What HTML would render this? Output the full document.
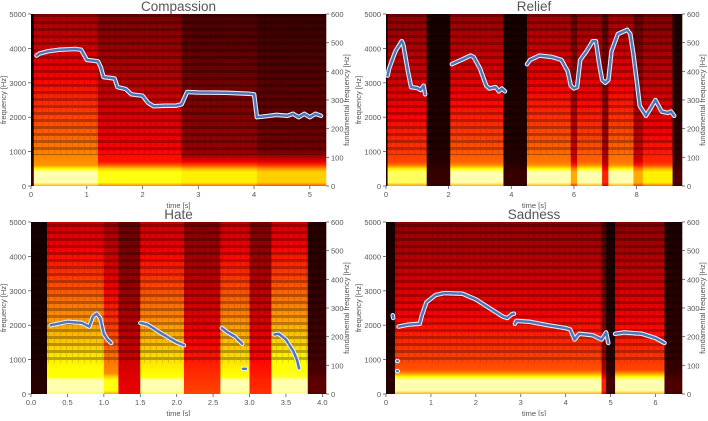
<!DOCTYPE html>
<html><head><meta charset="utf-8"><style>
body{margin:0;background:#fff;width:708px;height:416px;overflow:hidden;font-family:"Liberation Sans",sans-serif}
svg text{font-family:"Liberation Sans",sans-serif;fill:#555}
</style></head><body>
<svg id="fig" width="708" height="416" xmlns="http://www.w3.org/2000/svg"><defs id="defs">
<pattern id="harm" width="6" height="7" patternUnits="userSpaceOnUse"><rect x="0" y="0" width="6" height="3" fill="#000" opacity="0.28"/><rect x="0" y="3" width="1" height="4" fill="#000" opacity="0.12"/></pattern>
</defs></svg>
<script>
// ---- data ----
const compSegs=[[0,0.05,0.05,0.1],[0.05,1.2,0.72,0.95],[1.2,2.7,0.52,0.85],[2.7,4.05,0.3,0.8],[4.05,5.29,0.22,0.75]];
const compPitch=[[[0.1,455],[0.15,462],[0.3,470],[0.5,475],[0.8,478],[0.9,475],[1.0,440],[1.2,435],[1.25,415],[1.3,380],[1.5,375],[1.55,345],[1.7,338],[1.8,320],[2.0,315],[2.1,290],[2.2,278],[2.4,280],[2.6,280],[2.7,285],[2.8,328],[3.0,326],[3.5,325],[3.9,322],[4.0,320],[4.05,240],[4.2,243],[4.4,248],[4.6,245],[4.7,252],[4.8,240],[4.9,252],[5.0,240],[5.1,252],[5.2,245]]];
const reliefSegs=[[0,0.05,.05,.05],[0.05,1.3,0.6,0.9],[1.3,2.05,0.05,0.08],[2.05,3.75,0.65,0.95],[3.75,4.5,0.05,0.08],[4.5,5.9,0.68,0.95],[5.9,6.1,0.4,0.7],[6.1,6.9,0.65,0.95],[6.9,7.1,0.34,0.5],[7.1,7.9,0.68,0.95],[7.9,8.2,0.4,0.7],[8.2,9.15,0.55,0.8],[9.15,9.45,0.08,0.12]];
const reliefPitch=[[[0.05,385],[0.1,410],[0.3,470],[0.5,505],[0.55,495],[0.7,400],[0.8,345],[1.0,342],[1.1,335],[1.2,350],[1.25,320]],
[[2.1,425],[2.4,440],[2.7,455],[2.8,450],[3.0,410],[3.2,350],[3.3,340],[3.5,345],[3.6,330],[3.7,340],[3.8,330]],
[[4.5,425],[4.6,440],[4.9,455],[5.3,450],[5.6,440],[5.8,400],[5.9,350],[6.0,340],[6.1,345],[6.2,440],[6.4,470],[6.6,505],[6.7,505],[6.8,430],[6.9,370],[7.0,360],[7.1,370],[7.2,470],[7.4,530],[7.7,545],[7.8,530],[7.9,460],[8.0,370],[8.1,280],[8.3,245],[8.5,280],[8.6,300],[8.7,280],[8.8,260],[9.0,255],[9.1,260],[9.2,245]]];
const hateSegs=[[0,0.22,0.04,0.05],[0.22,1.0,0.9,0.95],[1.0,1.2,0.7,0.85],[1.2,1.5,0.42,0.35],[1.5,2.1,0.88,0.95],[2.1,2.6,0.55,0.5],[2.6,3.0,0.88,0.95],[3.0,3.3,0.52,0.5],[3.3,3.8,0.92,0.95],[3.8,4.05,0.12,0.15]];
const hatePitch=[[[0.27,240],[0.5,252],[0.7,248],[0.8,235],[0.85,270],[0.9,280],[0.95,265],[1.0,210],[1.05,190],[1.1,178]],
[[1.5,248],[1.6,242],[1.8,210],[2.0,180],[2.1,170]],[[2.62,230],[2.7,215],[2.8,200],[2.9,175]],[[2.91,88],[2.95,88]],
[[3.34,208],[3.4,210],[3.5,190],[3.6,150],[3.65,120],[3.68,90]]];
const sadSegs=[[0,0.2,0.05,0.05],[0.2,4.8,0.62,0.95],[4.8,4.9,0.3,0.5],[4.9,5.1,0.06,0.1],[5.1,6.2,0.6,0.95],[6.2,6.59,0.08,0.12]];
const sadPitch=[[[0.15,275],[0.16,265]],[[0.25,115],[0.26,115]],[[0.25,80],[0.26,80]],
[[0.28,235],[0.5,242],[0.75,245],[0.8,275],[0.9,320],[1.1,345],[1.3,352],[1.7,350],[2.0,330],[2.3,300],[2.6,270],[2.7,265],[2.8,278],[2.85,280]],
[[2.87,245],[2.9,255],[3.2,252],[3.6,240],[4.0,230],[4.1,225],[4.2,190],[4.3,210],[4.6,205],[4.8,190],[4.9,215],[4.95,178]],
[[5.1,210],[5.3,215],[5.7,210],[6.0,195],[6.2,178]]];
const freqTicks=[0,1000,2000,3000,4000,5000];
const f0Ticks=[0,100,200,300,400,500,600];
const compTicks=[0,1,2,3,4,5];
const reliefTicks=[0,2,4,6,8];
const hateTicks=[0,0.5,1,1.5,2,2.5,3,3.5,4];
const sadTicks=[0,1,2,3,4,5,6];
const titles=["Compassion","Relief","Hate","Sadness"];

const NS="http://www.w3.org/2000/svg";
const svg=document.getElementById('fig'),defs=document.getElementById('defs');
function mk(t,a,p){const e=document.createElementNS(NS,t);for(const k in a)e.setAttribute(k,a[k]);(p||svg).appendChild(e);return e;}
function hot(v){v=Math.max(0,Math.min(1,v));const r=Math.min(1,0.05+v/0.48),g=Math.max(0,Math.min(1,(v-0.45)/0.37)),b=Math.max(0,Math.min(1,(v-0.84)/0.16));return `rgb(${Math.round(r*255)},${Math.round(g*255)},${Math.round(b*255)})`;}
function lowBand(f,B){if(f<80)return B*0.75;if(f<=450)return B;return B*Math.exp(-(f-450)/420);}
let gid=0;
function panel(name,x0,x1,y0,y1,tmax,segs,pitch,ticks,fmt,title){
  const g=mk('g',{});
  
  
  const X=t=>x0+(x1-x0)*t/tmax, Yf=f=>y1-(y1-y0)*f/5000, Yp=p=>y1-(y1-y0)*p/600;
  mk('rect',{x:x0,y:y0,width:x1-x0,height:y1-y0,fill:'#100000'},g);
  segs.forEach(s=>{
    const id='gr'+(gid++);const lg=mk('linearGradient',{id:id,x1:0,y1:1,x2:0,y2:0},defs);
    for(let f=0;f<=5000;f+=100){const v=Math.max(lowBand(f,s[3]),s[2]*(1-0.6*f/5000));mk('stop',{offset:f/5000,'stop-color':hot(v)},lg);}
    const r=mk('rect',{x:X(s[0]),y:y0,width:Math.max(0.5,X(s[1])-X(s[0])+0.3),height:y1-y0,fill:`url(#${id})`},g);
    
    
  });
  mk('rect',{x:x0,y:y0,width:x1-x0,height:Yf(900)-y0,fill:'url(#harm)'},g);
  pitch.forEach(seg=>{
    const d=seg.map((p,i)=>(i?'L':'M')+X(p[0]).toFixed(1)+','+Yp(p[1]).toFixed(1)).join('');
    mk('path',{d:d,fill:'none',stroke:'#e8eef8','stroke-width':4.5,'stroke-linecap':'round','stroke-linejoin':'round'},g);
    const l=mk('path',{d:d,fill:'none',stroke:'#4f74b8','stroke-width':2.4,'stroke-linecap':'round','stroke-linejoin':'round'},g);
    
    
  });
  freqTicks.forEach(f=>{mk('line',{x1:x0-3,x2:x0,y1:Yf(f),y2:Yf(f),stroke:'#555','stroke-width':0.8},g);const t=mk('text',{x:x0-5,y:Yf(f)+3,'font-size':7.5,'text-anchor':'end'},g);t.textContent=f;});
  f0Ticks.forEach(p=>{mk('line',{x1:x1,x2:x1+3,y1:Yp(p),y2:Yp(p),stroke:'#555','stroke-width':0.8},g);const t=mk('text',{x:x1+5,y:Yp(p)+3,'font-size':7.5},g);t.textContent=p;});
  ticks.forEach(v=>{mk('line',{x1:X(v),x2:X(v),y1:y1,y2:y1+3,stroke:'#555','stroke-width':0.8},g);const t=mk('text',{x:X(v),y:y1+11,'font-size':7.5,'text-anchor':'middle'},g);t.textContent=fmt(v);});
  let t=mk('text',{x:(x0+x1)/2,y:y1+22,'font-size':7.5,'text-anchor':'middle'},g);t.textContent='time [s]';
  t=mk('text',{x:0,y:0,'font-size':7.5,'text-anchor':'middle',transform:`translate(${x0-25},${(y0+y1)/2}) rotate(-90)`},g);t.textContent='frequency [Hz]';
  t=mk('text',{x:0,y:0,'font-size':7.5,'text-anchor':'middle',transform:`translate(${x1+23},${(y0+y1)/2}) rotate(-90)`},g);t.textContent='fundamental frequency [Hz]';
  t=mk('text',{x:(x0+x1)/2,y:y0-3,'font-size':13.5,'text-anchor':'middle'},g);t.textContent=title;
  
  
}
panel('compassion',31,326,14,186,5.29,compSegs,compPitch,compTicks,v=>v,titles[0]);
panel('relief',386,682,14,186,9.45,reliefSegs,reliefPitch,reliefTicks,v=>v,titles[1]);
panel('hate',31,326,222,394,4.05,hateSegs,hatePitch,hateTicks,v=>v.toFixed(1),titles[2]);
panel('sadness',386,682,222,394,6.59,sadSegs,sadPitch,sadTicks,v=>v,titles[3]);
</script>
</body></html>
